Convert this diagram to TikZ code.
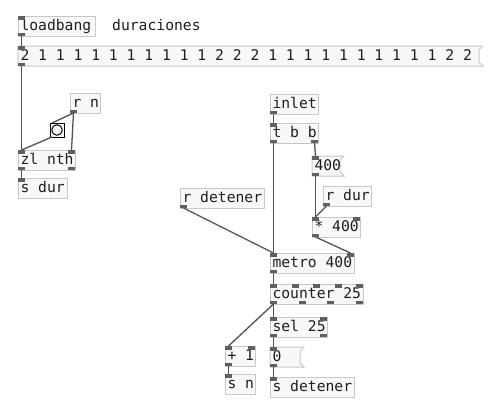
\documentclass[tikz,border=0pt]{standalone}
\usepackage{fontspec}
\newfontfamily\pdfont[WordSpace={1,0,0}]{DejaVu Sans Mono}
\usetikzlibrary{backgrounds,calc}
\definecolor{boxfill}{HTML}{F8F8F6}
\definecolor{boxline}{HTML}{C8C8C8}
\definecolor{iocol}{HTML}{5E625E}
\definecolor{wirecol}{HTML}{4E544E}
\definecolor{txt}{HTML}{1E1E1E}
\begin{document}
\begin{tikzpicture}[x=1pt,y=-1pt,
  pdtext/.style={font=\pdfont\fontsize{14.7}{16}\selectfont, text=txt,
    execute at begin node={\spaceskip=0.6021em\relax\xspaceskip=0.6021em\relax}},
  obj/.style={pdtext, draw=boxline, fill=boxfill, line width=1pt, anchor=north west,
    minimum height=20pt, inner xsep=0pt, inner ysep=0pt, outer sep=0pt,
    text height=11.5pt, text depth=2.5pt, text width=#1pt, minimum width=#1pt,
    execute at begin node={\spaceskip=0.6021em\relax\xspaceskip=0.6021em\relax\rightskip=0pt plus 1fil\relax\hspace*{2.5pt}}},
  msg/.style={obj=#1, draw=none, fill=none},
  msgshape/.style={draw=boxline, fill=boxfill, line width=1pt},
  iol/.style={fill=iocol, draw=none, minimum width=7pt, minimum height=3.5pt, inner sep=0pt, outer sep=0pt},
  wire/.style={draw=wirecol, line width=1.3pt},
  comment/.style={pdtext, inner sep=0pt, anchor=base west}]

\useasboundingbox (0,0) rectangle (500,413);

% ---------- left part ----------
\node[obj=77] (lb) at (18,16) {loadbang};
\node[comment] (cm) at (112,30.5) {duraciones};
\node[msg=461] (m1) at (18,46) {2 1 1 1 1 1 1 1 1 1 1 2 2 2 1 1 1 1 1 1 1 1 1 1 2 2};
\node[obj=30] (rn) at (70,93) {r n};
\node[draw=black, fill=boxfill, line width=1pt, minimum width=14pt, minimum height=14pt, inner sep=0pt, outer sep=0pt, anchor=north west] (bng) at (50,123) {};
\node[draw=black, line width=1pt, circle, minimum size=10.5pt, inner sep=0pt] (bngc) at (bng.center) {};
\node[obj=57] (zl) at (18,150) {zl nth};
\node[obj=49] (sdur) at (18,178) {s dur};

% ---------- right part ----------
\node[obj=48] (inl) at (270,94) {inlet};
\node[obj=48] (tbb) at (270,123) {t b b};
\node[msg=28] (m400) at (312,156) {400};
\node[obj=84] (rdet) at (180,188) {r detener};
\node[obj=48] (rdur) at (323,186) {r dur};
\node[obj=48] (mul) at (312,217) {* 400};
\node[obj=84] (metro) at (270,253) {metro 400};
\node[obj=93] (ctr) at (270,284) {counter 25};
\node[obj=57] (sel) at (270,317) {sel 25};
\node[msg=30] (m0) at (270,347) {0};
\node[obj=84] (sdet) at (270,377) {s detener};
\node[obj=30] (plus) at (225,346) {+ 1};
\node[obj=30] (sn) at (225,374) {s n};

% background and message box outlines
\begin{scope}[on background layer]
  \fill[white] (0,0) rectangle (500,413);
  \foreach \m in {m1,m400,m0}{
    \draw[msgshape] (\m.north west) -- ($(\m.north east)+(4,0)$) -- ($(\m.north east)+(0,4)$)
      -- ($(\m.south east)+(0,-4)$) -- ($(\m.south east)+(4,0)$) -- (\m.south west) -- cycle;
  }
\end{scope}

% ---------- iolets ----------
\node[iol, anchor=north west] (lbI) at (lb.north west) {};
\node[iol, anchor=south west] (lbO) at (lb.south west) {};
\node[iol, anchor=north west] (m1I) at (m1.north west) {};
\node[iol, anchor=south west] (m1O) at (m1.south west) {};
\node[iol, anchor=south west] (rnO) at (rn.south west) {};
\node[iol, anchor=north west] (zlI1) at (zl.north west) {};
\node[iol, anchor=north east] (zlI2) at (zl.north east) {};
\node[iol, anchor=south west] (zlO1) at (zl.south west) {};
\node[iol, anchor=south east] (zlO2) at (zl.south east) {};
\node[iol, anchor=north west] (sdurI) at (sdur.north west) {};

\node[iol, anchor=south west] (inlO) at (inl.south west) {};
\node[iol, anchor=north west] (tbbI) at (tbb.north west) {};
\node[iol, anchor=south west] (tbbO1) at (tbb.south west) {};
\node[iol, anchor=south east] (tbbO2) at (tbb.south east) {};
\node[iol, anchor=north west] (m400I) at (m400.north west) {};
\node[iol, anchor=south west] (m400O) at (m400.south west) {};
\node[iol, anchor=south west] (rdetO) at (rdet.south west) {};
\node[iol, anchor=south west] (rdurO) at (rdur.south west) {};
\node[iol, anchor=north west] (mulI1) at (mul.north west) {};
\node[iol, anchor=north east] (mulI2) at (mul.north east) {};
\node[iol, anchor=south west] (mulO) at (mul.south west) {};
\node[iol, anchor=north west] (metroI1) at (metro.north west) {};
\node[iol, anchor=north east] (metroI2) at (metro.north east) {};
\node[iol, anchor=south west] (metroO) at (metro.south west) {};
\foreach \k in {0,...,4}{
  \node[iol, anchor=north west] (ctrI\k) at ($(ctr.north west)+(21.5*\k,0)$) {};
}
\foreach \k in {0,...,3}{
  \node[iol, anchor=south west] (ctrO\k) at ($(ctr.south west)+(28.67*\k,0)$) {};
}
\node[iol, anchor=north west] (selI1) at (sel.north west) {};
\node[iol, anchor=north east] (selI2) at (sel.north east) {};
\node[iol, anchor=south west] (selO1) at (sel.south west) {};
\node[iol, anchor=south east] (selO2) at (sel.south east) {};
\node[iol, anchor=north west] (m0I) at (m0.north west) {};
\node[iol, anchor=south west] (m0O) at (m0.south west) {};
\node[iol, anchor=north west] (sdetI) at (sdet.north west) {};
\node[iol, anchor=north west] (plusI1) at (plus.north west) {};
\node[iol, anchor=north east] (plusI2) at (plus.north east) {};
\node[iol, anchor=south west] (plusO) at (plus.south west) {};
\node[iol, anchor=north west] (snI) at (sn.north west) {};

% ---------- wires ----------
\draw[wire] (lbO.south) -- (m1I.north);
\draw[wire] (m1O.south) -- (zlI1.north);
\draw[wire] (rnO.south) -- ($(bng.north west)+(2,0)$);
\draw[wire] ($(bng.south west)+(2,0)$) -- (zlI1.north);
\draw[wire] (rnO.south) -- (zlI2.north);
\draw[wire] (zlO1.south) -- (sdurI.north);

\draw[wire] (inlO.south) -- (tbbI.north);
\draw[wire] (tbbO2.south) -- (m400I.north);
\draw[wire] (tbbO1.south) -- (metroI1.north);
\draw[wire] (m400O.south) -- (mulI1.north);
\draw[wire] (rdurO.south) -- (mulI1.north);
\draw[wire] (mulO.south) -- (metroI2.north);
\draw[wire] (rdetO.south) -- (metroI1.north);
\draw[wire] (metroO.south) -- (ctrI0.north);
\draw[wire] (ctrO0.south) -- (selI1.north);
\draw[wire] (ctrO0.south) -- (plusI1.north);
\draw[wire] (selO1.south) -- (m0I.north);
\draw[wire] (m0O.south) -- (sdetI.north);
\draw[wire] (plusO.south) -- (snI.north);
\end{tikzpicture}
\end{document}
